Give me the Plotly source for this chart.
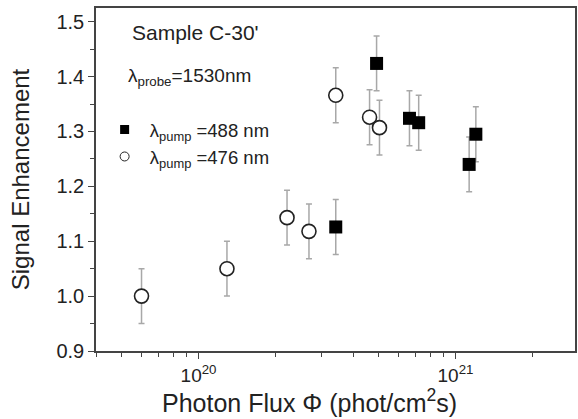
import plotly.graph_objects as go

# 488 nm pump (filled squares)
flux_488 = [3.42e20, 4.93e20, 6.62e20, 7.19e20, 1.13e21, 1.20e21]
enh_488 = [1.126, 1.424, 1.324, 1.316, 1.240, 1.295]
err_488 = [0.05, 0.05, 0.05, 0.05, 0.05, 0.05]

# 476 nm pump (open circles)
flux_476 = [6.0e19, 1.29e20, 2.21e20, 2.69e20, 3.42e20, 4.63e20, 5.06e20]
enh_476 = [1.000, 1.050, 1.143, 1.118, 1.366, 1.326, 1.307]
err_476 = [0.05, 0.05, 0.05, 0.05, 0.05, 0.05, 0.05]

y_ticks = [0.9, 1.0, 1.1, 1.2, 1.3, 1.4, 1.5]
y_ticklabels = ["0.9", "1.0", "1.1", "1.2", "1.3", "1.4", "1.5"]
x_ticks = [1e20, 1e21]
x_ticklabels = ["10<sup>20</sup>", "10<sup>21</sup>"]

FONT = "Liberation Sans, Arial, sans-serif"
errstyle = dict(type="data", thickness=1.5, width=3, color="#a8a8a8")

fig = go.Figure()
fig.add_trace(go.Scatter(
    x=flux_476, y=enh_476, mode="markers", showlegend=False,
    error_y=dict(array=err_476, **errstyle),
    marker=dict(symbol="circle", size=14, color="white",
                line=dict(color="#222", width=1.6))))
fig.add_trace(go.Scatter(
    x=flux_488, y=enh_488, mode="markers", showlegend=False,
    error_y=dict(array=err_488, **errstyle),
    marker=dict(symbol="square", size=13, color="black",
                line=dict(color="black", width=0))))
# legend entries
fig.add_trace(go.Scatter(
    x=[None], y=[None], mode="markers",
    name="&nbsp;λ<sub>pump</sub> =488 nm",
    marker=dict(symbol="square", size=9, color="black")))
fig.add_trace(go.Scatter(
    x=[None], y=[None], mode="markers",
    name="&nbsp;λ<sub>pump</sub> =476 nm",
    marker=dict(symbol="circle", size=9, color="white",
                line=dict(color="#222", width=1))))

fig.update_layout(
    width=578, height=419,
    margin=dict(l=96, r=1, t=8, b=68),
    paper_bgcolor="white", plot_bgcolor="white",
    font=dict(family=FONT, color="#222", size=16),
    legend=dict(x=0.018, y=0.70, xanchor="left", yanchor="top",
                bgcolor="rgba(0,0,0,0)", font=dict(size=18.5),
                tracegroupgap=0, itemwidth=30),
    annotations=[
        dict(text="Sample C-30'", x=0.07, y=0.93, xref="paper", yref="paper",
             xanchor="left", yanchor="middle", showarrow=False,
             font=dict(size=21)),
        dict(text="λ<sub>probe</sub>=1530nm", x=0.062, y=0.80, xref="paper",
             yref="paper", xanchor="left", yanchor="middle", showarrow=False,
             font=dict(size=19)),
        dict(text="Photon Flux Φ (phot/cm<sup>2</sup>s)", x=0.445, y=-0.092,
             xref="paper", yref="paper", xanchor="center", yanchor="top",
             showarrow=False, font=dict(size=25)),
    ],
)
fig.update_xaxes(
    type="log", range=[19.601, 21.465],
    tickvals=x_ticks, ticktext=x_ticklabels,
    ticks="outside", ticklen=6, tickwidth=1.2, tickcolor="#444",
    minor=dict(ticks="outside", ticklen=4, tickcolor="#444",
               tickvals=[4e19, 5e19, 6e19, 7e19, 8e19, 9e19, 2e20, 3e20, 4e20,
                         5e20, 6e20, 7e20, 8e20, 9e20, 2e21]),
    showline=True, linecolor="#444", linewidth=1.5, mirror=True,
    showgrid=False, zeroline=False,
    tickfont=dict(size=19),
)
fig.update_yaxes(
    range=[0.9, 1.525],
    tickvals=y_ticks, ticktext=y_ticklabels,
    ticks="outside", ticklen=6, tickwidth=1.2, tickcolor="#444",
    minor=dict(ticks="outside", ticklen=4, tickcolor="#444", dtick=0.05,
               tick0=0.9),
    showline=True, linecolor="#444", linewidth=1.5, mirror=True,
    showgrid=False, zeroline=False,
    tickfont=dict(size=20),
    title=dict(text="Signal Enhancement", font=dict(size=24), standoff=20),
)

fig.write_html("out.html")
